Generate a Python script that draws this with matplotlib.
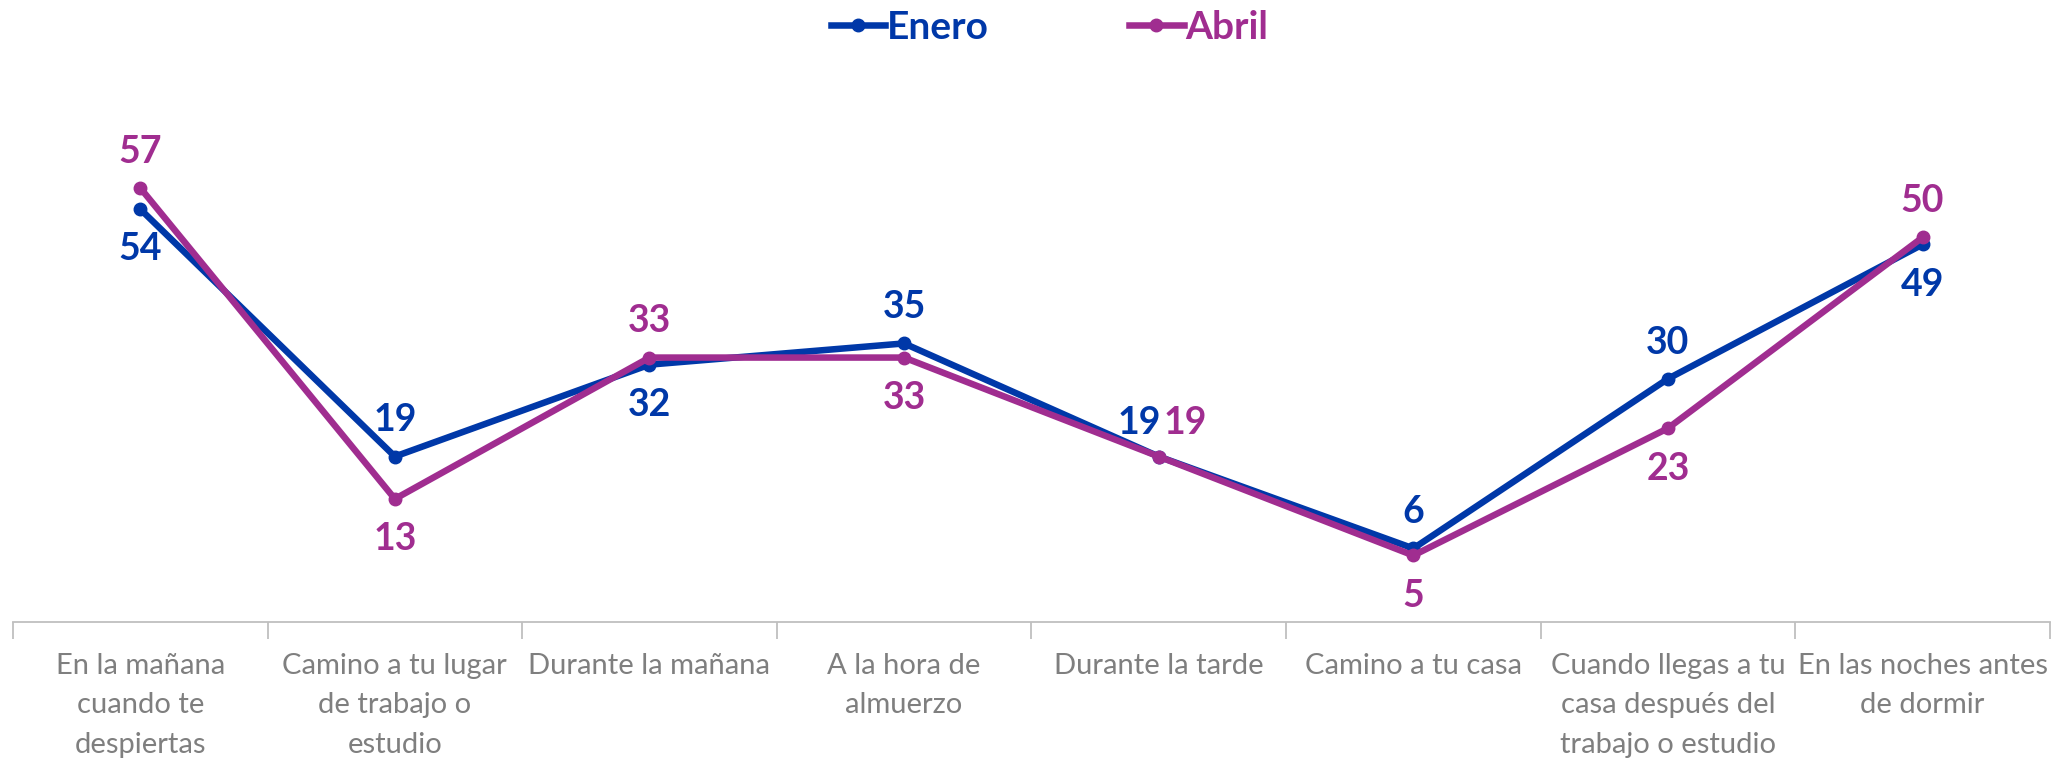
import numpy as np
import matplotlib.pyplot as plt

# datos
categorias = ['En la mañana\ncuando te\ndespiertas', 'Camino a tu lugar\nde trabajo o\nestudio',
              'Durante la mañana', 'A la hora de\nalmuerzo', 'Durante la tarde', 'Camino a tu casa',
              'Cuando llegas a tu\ncasa después del\ntrabajo o estudio', 'En las noches antes\nde dormir']
enero = [54, 19, 32, 35, 19, 6, 30, 49]
abril = [57, 13, 33, 33, 19, 5, 23, 50]

# posicion de las etiquetas (offset en puntos)
off_enero = [(0, -29), (0, 26), (0, -29), (0, 26), (-14, 24), (0, 26), (0, 26), (0, -29)]
off_abril = [(0, 26), (0, -29), (0, 26), (0, -29), (19, 24), (0, -29), (0, -29), (0, 26)]

azul = '#0038A8'
morado = '#A02D90'

plt.rcParams['font.family'] = ['Lato', 'DejaVu Sans']

fig = plt.figure(figsize=(20.54, 7.65), dpi=100)
ax = fig.add_axes([0.0063, 0.187, 0.9917, 0.6875])

x = np.arange(len(categorias))
ax.plot(x, enero, color=azul, lw=4.7, marker='o', ms=9, label='Enero', zorder=3)
ax.plot(x, abril, color=morado, lw=4.7, marker='o', ms=9, label='Abril', zorder=3)

for i in range(len(x)):
    ax.annotate(str(enero[i]), (x[i], enero[i]), xytext=off_enero[i], textcoords='offset points',
                ha='center', va='center', color=azul, fontsize=27, fontweight='bold')
    ax.annotate(str(abril[i]), (x[i], abril[i]), xytext=off_abril[i], textcoords='offset points',
                ha='center', va='center', color=morado, fontsize=27, fontweight='bold')

ax.set_xlim(-0.5, len(categorias) - 0.5)
ax.set_ylim(-4.4, 70)

ax.set_xticks(np.arange(len(categorias) + 1) - 0.5)
ax.set_xticklabels([])
ax.set_xticks(x, minor=True)
ax.set_xticklabels(categorias, minor=True, fontsize=21, color='#7f7f7f', linespacing=1.65)
ax.tick_params(axis='x', which='major', length=12, color='#bfbfbf', width=1.3)
ax.tick_params(axis='x', which='minor', length=0, pad=22)
ax.set_yticks([])

for s in ['top', 'right', 'left']:
    ax.spines[s].set_visible(False)
ax.spines['bottom'].set_color('#bfbfbf')
ax.spines['bottom'].set_linewidth(1.3)

leg = fig.legend(loc='upper center', bbox_to_anchor=(0.511, 1.033), ncol=2, frameon=False,
                 prop={'size': 28, 'weight': 'bold'}, handlelength=1.4, handletextpad=0.05,
                 columnspacing=3.6)
for t, c in zip(leg.get_texts(), [azul, morado]):
    t.set_color(c)

fig.savefig('out.png', dpi=100)
